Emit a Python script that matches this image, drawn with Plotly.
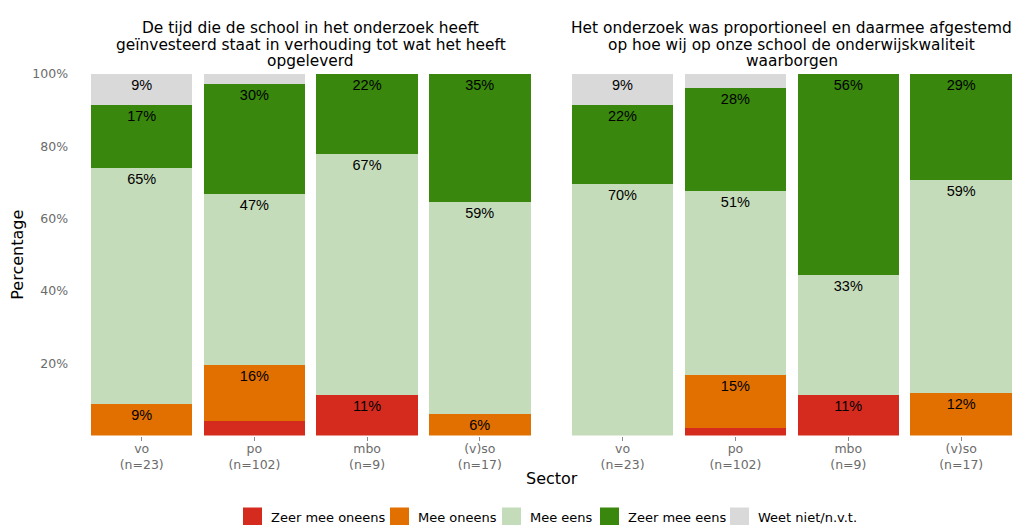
import plotly.graph_objects as go

# ---- data (percentages) ----
sectors = ["vo", "po", "mbo", "(v)so"]
sector_n = [23, 102, 9, 17]
categories = ["Zeer mee oneens", "Mee oneens", "Mee eens", "Zeer mee eens", "Weet niet/n.v.t."]
colors = ["#D52B1E", "#E17000", "#C5DCBA", "#39870C", "#D9D9D9"]
y_tick_vals = [20, 40, 60, 80, 100]
y_tick_text = ["20%", "40%", "60%", "80%", "100%"]

titles = [
    ["De tijd die de school in het onderzoek heeft",
     "geïnvesteerd staat in verhouding tot wat het heeft",
     "opgeleverd"],
    ["Het onderzoek was proportioneel en daarmee afgestemd",
     "op hoe wij op onze school de onderwijskwaliteit",
     "waarborgen"],
]

# panel 1: De tijd ... opgeleverd
p1_zeer_oneens = [0.0, 3.9, 11.1, 0.0]
p1_oneens = [8.7, 15.7, 0.0, 5.9]
p1_eens = [65.2, 47.1, 66.7, 58.8]
p1_zeer_eens = [17.4, 30.4, 22.2, 35.3]
p1_weet_niet = [8.7, 2.9, 0.0, 0.0]

# panel 2: Het onderzoek was proportioneel ...
p2_zeer_oneens = [0.0, 2.0, 11.1, 0.0]
p2_oneens = [0.0, 14.7, 0.0, 11.8]
p2_eens = [69.6, 51.0, 33.3, 58.8]
p2_zeer_eens = [21.7, 28.4, 55.6, 29.4]
p2_weet_niet = [8.7, 3.9, 0.0, 0.0]

panels = [
    [p1_zeer_oneens, p1_oneens, p1_eens, p1_zeer_eens, p1_weet_niet],
    [p2_zeer_oneens, p2_oneens, p2_eens, p2_zeer_eens, p2_weet_niet],
]

tick_text = [f"{s}<br>(n={n})" for s, n in zip(sectors, sector_n)]

FONT = "DejaVu Sans"
LABEL_FONT = "Liberation Sans"
W, H = 1018, 525

fig = go.Figure()
for pi, series in enumerate(panels):
    xa = "x" if pi == 0 else "x2"
    ya = "y" if pi == 0 else "y2"
    for ci, (cat, vals) in enumerate(zip(categories, series)):
        fig.add_trace(go.Bar(
            x=sectors, y=vals, name=cat,
            marker=dict(color=colors[ci], line=dict(width=0)),
            text=[f"{round(v)}%" if v >= 5 else "" for v in vals],
            textposition="inside", insidetextanchor="end",
            constraintext="none",
            textfont=dict(family=LABEL_FONT, size=14.5, color="black"),
            xaxis=xa, yaxis=ya,
            showlegend=False,
            hoverinfo="skip",
        ))


def px_x(p):
    return p / W


def px_y(p):
    return (H - p) / H


y_top, y_bot = 74, 435.5
left_px = (74.1, 547.4)
right_px = (554.8, 1029.0)
left_dom = [px_x(left_px[0]), px_x(left_px[1])]
right_dom = [px_x(right_px[0]), 1.0]

xcommon = dict(
    type="category", categoryorder="array", categoryarray=sectors,
    tickmode="array", tickvals=sectors, ticktext=tick_text,
    ticks="outside", ticklen=4, tickcolor="#8a8a8a", tickwidth=1,
    ticklabelstandoff=-3,
    showgrid=False, zeroline=False, showline=False,
    tickfont=dict(family=FONT, size=12.5, color="#6b6b6b"),
    automargin=False,
)
ycommon = dict(
    range=[0, 100], tickmode="array", tickvals=y_tick_vals, ticktext=y_tick_text,
    showgrid=False, zeroline=False, showline=False, ticks="",
    tickfont=dict(family=FONT, size=12.5, color="#6b6b6b"),
    automargin=False,
    domain=[px_y(y_bot), px_y(y_top)],
)

fig.update_layout(
    width=W, height=H,
    margin=dict(l=0, r=0, t=0, b=0),
    paper_bgcolor="white", plot_bgcolor="white",
    barmode="stack", bargap=0.1,
    font=dict(family=FONT, color="black"),
    xaxis=dict(domain=left_dom, range=[-0.6, 3.6], anchor="y", **xcommon),
    xaxis2=dict(domain=right_dom, range=[-0.6, 3.503], anchor="y2", **xcommon),
    yaxis=dict(anchor="x", ticklabelstandoff=5, **ycommon),
    yaxis2=dict(anchor="x2", showticklabels=False, **ycommon),
    showlegend=False,
)

annotations = []
shapes = []
centers = [(left_px[0] + left_px[1]) / 2, (right_px[0] + right_px[1]) / 2]
line_y = [28, 45, 61.5]
for pi in range(2):
    for li, line in enumerate(titles[pi]):
        annotations.append(dict(
            text=line, x=px_x(centers[pi]), y=px_y(line_y[li]),
            xref="paper", yref="paper", xanchor="center", yanchor="middle",
            showarrow=False, font=dict(family=FONT, size=15.4, color="black"),
        ))
annotations.append(dict(
    text="Percentage", x=px_x(18), y=px_y((y_top + y_bot) / 2),
    xref="paper", yref="paper", xanchor="center", yanchor="middle",
    textangle=-90, showarrow=False, font=dict(family=FONT, size=16, color="black"),
))
annotations.append(dict(
    text="Sector", x=px_x(551.6), y=px_y(478),
    xref="paper", yref="paper", xanchor="center", yanchor="middle",
    showarrow=False, font=dict(family=FONT, size=16, color="black"),
))

# legend (keys + labels) along the bottom
legend_key_x = [243, 390, 502, 600, 730]
legend_y = 517
key = 19
for cat, col, kx in zip(categories, colors, legend_key_x):
    shapes.append(dict(
        type="rect", xref="paper", yref="paper",
        x0=px_x(kx), x1=px_x(kx + key),
        y0=px_y(legend_y + key / 2), y1=px_y(legend_y - key / 2),
        fillcolor=col, line=dict(width=0),
    ))
    annotations.append(dict(
        text=cat, x=px_x(kx + key + 7), y=px_y(legend_y),
        xref="paper", yref="paper", xanchor="left", yanchor="middle",
        showarrow=False, font=dict(family=FONT, size=13, color="black"),
    ))

fig.update_layout(annotations=annotations, shapes=shapes)

fig.write_html(
    "out.html",
    config={"displayModeBar": False},
    post_script="document.body.style.margin='0px';document.body.style.overflow='hidden';",
)
